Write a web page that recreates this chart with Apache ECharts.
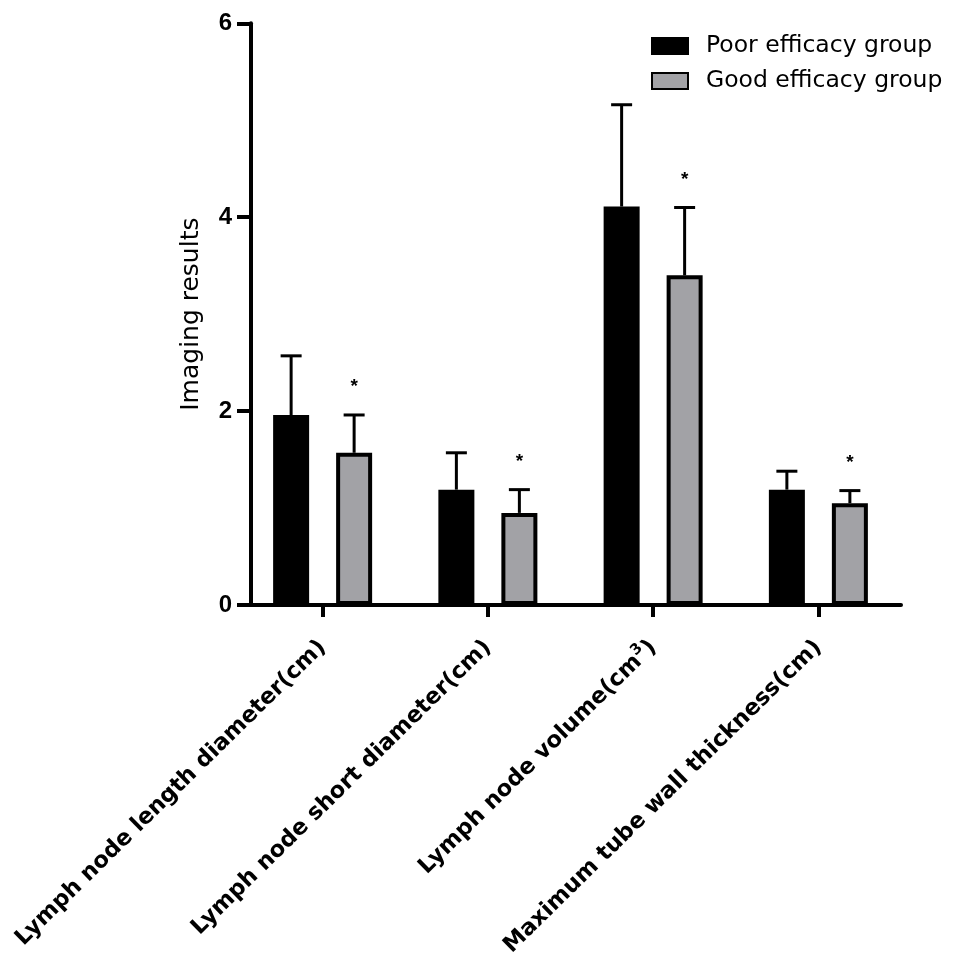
<!DOCTYPE html>
<html>
<head>
<meta charset="utf-8">
<script src="https://cdn.jsdelivr.net/npm/echarts@6/dist/echarts.min.js"></script>
<style>html,body{margin:0;padding:0;background:#fff}#c{width:957px;height:970px}</style>
</head>
<body>
<div id="c"></div>
<script>
const categories = [
  'Lymph node length diameter(cm)',
  'Lymph node short diameter(cm)',
  'Lymph node volume(cm³)',
  'Maximum tube wall thickness(cm)'
];
const seriesNames = ['Poor efficacy group', 'Good efficacy group'];
const poorMean = [1.96, 1.19, 4.11, 1.19];
const poorSD   = [0.61, 0.38, 1.05, 0.19];
const goodMean = [1.57, 0.95, 3.40, 1.05];
const goodSD   = [0.39, 0.24, 0.70, 0.13];
const goodMarks = ['*', '*', '*', '*'];
const yTicks = [0, 2, 4, 6];
const yAxisName = 'Imaging results';

const chart = echarts.init(document.getElementById('c'), null, {renderer: 'canvas'});

function errorSeries(name, means, sds, marks, offset) {
  return {
    type: 'custom',
    name: name,
    xAxisIndex: 0, yAxisIndex: 0,
    z: 5,
    silent: true,
    data: means.map((m, i) => [i, m, sds[i]]),
    renderItem: function (params, api) {
      const i = api.value(0), m = api.value(1), s = api.value(2);
      const base = api.coord([i, m]);
      const top = api.coord([i, m + s]);
      const cx = base[0] + offset;
      const children = [
        {type: 'line', shape: {x1: cx, y1: base[1], x2: cx, y2: top[1]}, style: {stroke: '#000', lineWidth: 3}},
        {type: 'line', shape: {x1: cx - 10.5, y1: top[1], x2: cx + 10.5, y2: top[1]}, style: {stroke: '#000', lineWidth: 3}}
      ];
      const mk = marks ? marks[params.dataIndex] : '';
      if (mk) {
        children.push({type: 'text', style: {text: mk, x: cx, y: top[1] - 28, align: 'center', verticalAlign: 'middle',
          font: 'bold 19px "Liberation Sans", Arial, sans-serif', fill: '#000'}});
      }
      return {type: 'group', children: children};
    }
  };
}

const option = {
  backgroundColor: '#fff',
  animation: false,
  grid: {left: 240, right: 56, top: 23.3, bottom: 365, containLabel: false, outerBoundsMode: 'none'},
  legend: {
    orient: 'vertical', left: 646, top: 29, itemWidth: 36, itemHeight: 16, itemGap: 11,
    icon: 'rect',
    textStyle: {fontFamily: 'DejaVu Sans', fontSize: 23.5, color: '#000', padding: [0, 0, 0, 13]},
    data: seriesNames
  },
  xAxis: {
    type: 'category',
    data: categories,
    boundaryGap: true,
    axisLine: {lineStyle: {color: '#000', width: 4}},
    axisTick: {show: true, alignWithLabel: true, length: 12, lineStyle: {color: '#000', width: 4}},
    splitLine: {show: false},
    axisLabel: {
      interval: 0, rotate: 44.5, margin: 39,
      color: '#000', fontFamily: 'DejaVu Sans', fontWeight: 'bold', fontSize: 22.6,
      formatter: function (v) {
        if (v.indexOf('³') >= 0) {
          const parts = v.split('³');
          return '{n|' + parts[0] + '}{s|3}{n|' + parts[1] + '}';
        }
        return '{n|' + v + '}';
      },
      rich: {
        n: {fontFamily: 'DejaVu Sans', fontWeight: 'bold', fontSize: 22.6, color: '#000', lineHeight: 30},
        s: {fontFamily: 'DejaVu Sans', fontWeight: 'bold', fontSize: 15, color: '#000', verticalAlign: 'top', lineHeight: 15}
      }
    }
  },
  yAxis: {
    type: 'value',
    min: yTicks[0], max: yTicks[yTicks.length - 1], interval: yTicks[1] - yTicks[0],
    offset: -11,
    name: yAxisName, nameLocation: 'middle', nameGap: 47, nameRotate: 90,
    nameTextStyle: {fontFamily: 'DejaVu Sans', fontSize: 25, color: '#000'},
    axisLine: {show: true, lineStyle: {color: '#000', width: 4}},
    axisTick: {show: true, length: 14, lineStyle: {color: '#000', width: 4}},
    splitLine: {show: false},
    axisLabel: {margin: 19, color: '#000', fontFamily: '"Liberation Sans", Arial', fontWeight: 'bold', fontSize: 24}
  },
  series: [
    {
      name: seriesNames[0], type: 'bar', data: poorMean, barWidth: 36, barGap: '75%', z: 3,
      itemStyle: {color: '#000', borderColor: '#000', borderWidth: 4}
    },
    {
      name: seriesNames[1], type: 'bar', data: goodMean, barWidth: 36, barGap: '75%', z: 3,
      itemStyle: {color: '#a2a2a6', borderColor: '#000', borderWidth: 4}
    },
    errorSeries('poorErr', poorMean, poorSD, null, -31.5),
    errorSeries('goodErr', goodMean, goodSD, goodMarks, 31.5)
  ]
};
chart.setOption(option);
</script>
</body>
</html>
